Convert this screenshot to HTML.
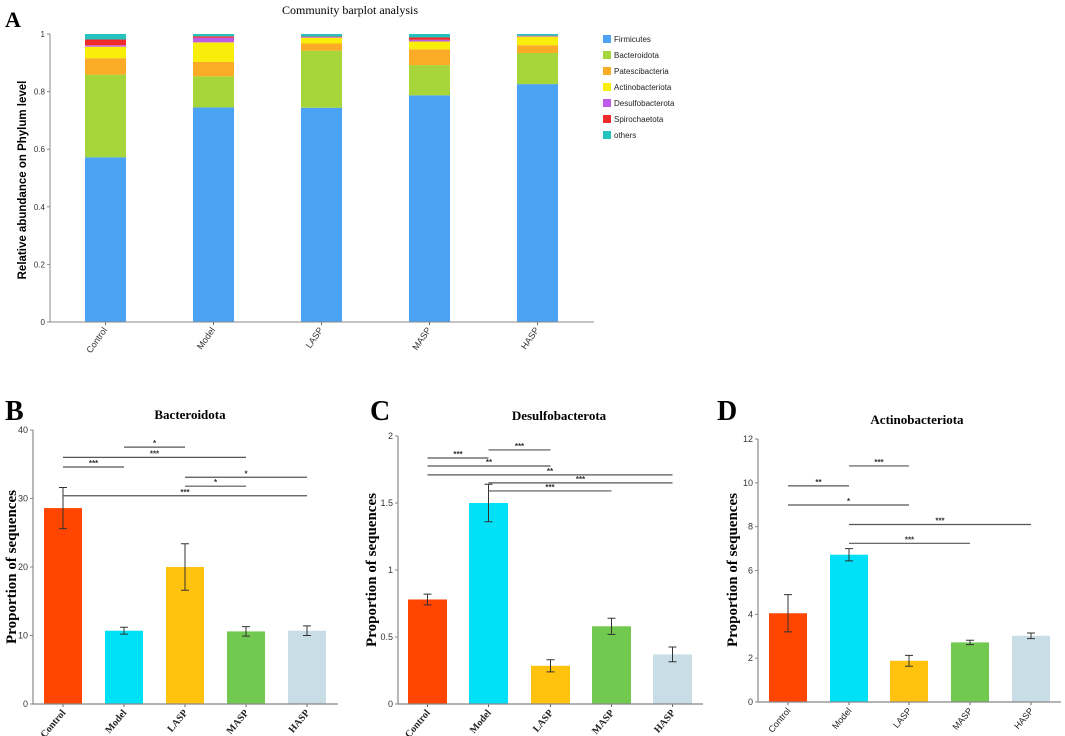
<!DOCTYPE html>
<html><head><meta charset="utf-8"><style>
html,body{margin:0;padding:0;background:#fff;}
svg{display:block;}
</style></head><body>
<svg id="fig" width="1065" height="736" viewBox="0 0 1065 736" xmlns="http://www.w3.org/2000/svg">
<text x="5" y="27" font-family="Liberation Serif, serif" font-weight="bold" font-size="22">A</text>
<text x="350" y="14" text-anchor="middle" font-family="Liberation Serif, serif" font-size="12">Community barplot analysis</text>
<text transform="translate(26,180) rotate(-90)" text-anchor="middle" font-family="Liberation Sans, sans-serif" font-weight="bold" font-size="11.5">Relative abundance on Phylum level</text>
<text x="5" y="420" font-family="Liberation Serif, serif" font-weight="bold" font-size="28">B</text>
<text x="190" y="419" text-anchor="middle" font-family="Liberation Serif, serif" font-weight="bold" font-size="13">Bacteroidota</text>
<text transform="translate(16,567) rotate(-90)" text-anchor="middle" font-family="Liberation Serif, serif" font-weight="bold" font-size="15">Proportion of sequences</text>
<text x="370" y="420" font-family="Liberation Serif, serif" font-weight="bold" font-size="28">C</text>
<text x="559" y="420" text-anchor="middle" font-family="Liberation Serif, serif" font-weight="bold" font-size="13">Desulfobacterota</text>
<text transform="translate(376,570) rotate(-90)" text-anchor="middle" font-family="Liberation Serif, serif" font-weight="bold" font-size="15">Proportion of sequences</text>
<text x="717" y="420" font-family="Liberation Serif, serif" font-weight="bold" font-size="28">D</text>
<text x="917" y="424" text-anchor="middle" font-family="Liberation Serif, serif" font-weight="bold" font-size="13">Actinobacteriota</text>
<text transform="translate(737,570) rotate(-90)" text-anchor="middle" font-family="Liberation Serif, serif" font-weight="bold" font-size="15">Proportion of sequences</text>
</svg>
<script>
const groups = ["Control","Model","LASP","MASP","HASP"];
// Panel A data
const phyla = ["Firmicutes","Bacteroidota","Patescibacteria","Actinobacteriota","Desulfobacterota","Spirochaetota","others"];
const phylaColors = ["#4aa3f5","#a6d63a","#fbab26","#f8ee0a","#c05be8","#ee2a2a","#26c2be"];
const firmicutes = [0.572,0.745,0.744,0.787,0.826];
const bacteroidota = [0.287,0.108,0.198,0.105,0.108];
const patescibacteria = [0.057,0.050,0.025,0.055,0.027];
const actinobacteriota = [0.040,0.068,0.020,0.027,0.030];
const desulfobacterota = [0.005,0.016,0.002,0.006,0.002];
const spirochaetota = [0.020,0.005,0.002,0.008,0.001];
const others = [0.019,0.008,0.009,0.012,0.006];
const aTicks = [0,0.2,0.4,0.6,0.8,1];
const aTickLabels = ["0","0.2","0.4","0.6","0.8","1"];
// Panel B
const bMeans = [28.6,10.7,20.0,10.6,10.7];
const bErr = [3.0,0.5,3.4,0.7,0.7];
const bTicks = [0,10,20,30,40];
const bSig = [[1,2,37.5,"*"],[0,3,36.0,"***"],[0,1,34.6,"***"],[2,4,33.1,"*"],[2,3,31.8,"*"],[0,4,30.4,"***"]];
// Panel C
const cMeans = [0.78,1.50,0.285,0.58,0.37];
const cErr = [0.04,0.14,0.045,0.06,0.055];
const cTicks = [0,0.5,1,1.5,2];
const cSig = [[1,2,1.896,"***"],[0,1,1.836,"***"],[0,2,1.776,"**"],[0,4,1.71,"**"],[1,4,1.65,"***"],[1,3,1.59,"***"]];
// Panel D
const dMeans = [4.05,6.72,1.88,2.72,3.02];
const dErr = [0.85,0.28,0.25,0.1,0.13];
const dTicks = [0,2,4,6,8,10,12];
const dSig = [[1,2,10.77,"***"],[0,1,9.86,"**"],[0,2,8.99,"*"],[1,4,8.1,"***"],[1,3,7.24,"***"]];
const barColors = ["#ff4500","#00e1f7","#ffc20e","#72c94f","#c9dde6"];

const NS="http://www.w3.org/2000/svg";
const svg=document.getElementById('fig');
function mk(tag,attrs){const e=document.createElementNS(NS,tag);for(const k in attrs)e.setAttribute(k,attrs[k]);svg.appendChild(e);return e;}

// ---- Panel A ----
(function(){
  const x0=50,x1=594,y0=322,y1=34;
  const ys=v=>y0-(y0-y1)*v;
  const barL=[85,193,301,409,517],bw=41;
  const series=[firmicutes,bacteroidota,patescibacteria,actinobacteriota,desulfobacterota,spirochaetota,others];
  groups.forEach((g,i)=>{
    let cum=0;
    series.forEach((s,k)=>{
      const top=ys(cum+s[i]),bot=ys(cum);
      const r=mk('rect',{x:barL[i],y:top,width:bw,height:Math.max(0,bot-top),fill:phylaColors[k]});
      
      
      cum+=s[i];
    });
    const tx=barL[i]+bw/2;
    const t=mk('line',{x1:tx,y1:y0,x2:tx,y2:y0+3,stroke:'#666'});
    
    
    const lab=mk('text',{transform:`translate(${tx+2},${y0+8}) rotate(-55)`,'text-anchor':'end','font-family':'Liberation Sans, sans-serif','font-size':'9',fill:'#333'});
    lab.textContent=g;
    
    
  });
  const ax=mk('path',{d:`M${x0},${y1} V${y0} H${x1}`,stroke:'#888',fill:'none','stroke-width':1});
  
  
  aTicks.forEach((v,i)=>{
    const t=mk('line',{x1:x0-3,y1:ys(v),x2:x0,y2:ys(v),stroke:'#888'});
    
    
    const l=mk('text',{x:x0-5,y:ys(v)+3,'text-anchor':'end','font-family':'Liberation Sans, sans-serif','font-size':'8',fill:'#333'});
    l.textContent=aTickLabels[i];
    
    
  });
  phyla.forEach((p,k)=>{
    const y=39+16*k;
    const r=mk('rect',{x:603,y:y-4,width:8,height:8,fill:phylaColors[k]});
    
    
    const t=mk('text',{x:614,y:y+3,'font-family':'Liberation Sans, sans-serif','font-size':'8',fill:'#222'});
    t.textContent=p;
    
    
  });
})();

// ---- Bar panels ----
function barPanel(cfg){
  const {x0,x1,y0,yTop,max,ticks,means,err,sig,barL,bw,serifX,id}=cfg;
  const ys=v=>y0-(y0-yTop)*v/max;
  const cx=i=>barL[i]+bw/2;
  means.forEach((m,i)=>{
    const r=mk('rect',{x:barL[i],y:ys(m),width:bw,height:y0-ys(m),fill:barColors[i]});
    
    
    const c=cx(i),hi=ys(m+err[i]),lo=ys(m-err[i]);
    const e=mk('path',{d:`M${c},${hi}V${lo}M${c-4},${hi}H${c+4}M${c-4},${lo}H${c+4}`,stroke:'#333','stroke-width':1,fill:'none'});
    
    
    const t=mk('line',{x1:c,y1:y0,x2:c,y2:y0+3,stroke:'#666'});
    
    
    const lab=mk('text',{transform:`translate(${c+3},${y0+9}) rotate(-50)`,'text-anchor':'end','font-family':serifX?'Liberation Serif, serif':'Liberation Sans, sans-serif','font-weight':serifX?'bold':'normal','font-size':serifX?'10':'9',fill:'#222'});
    lab.textContent=groups[i];
    
    
  });
  const ax=mk('path',{d:`M${x0},${yTop} V${y0} H${x1}`,stroke:'#888',fill:'none','stroke-width':1.2});
  
  
  ticks.forEach(v=>{
    const t=mk('line',{x1:x0-3,y1:ys(v),x2:x0,y2:ys(v),stroke:'#888'});
    
    
    const l=mk('text',{x:x0-5,y:ys(v)+3,'text-anchor':'end','font-family':'Liberation Sans, sans-serif','font-size':'9',fill:'#333'});
    l.textContent=String(v);
    
    
  });
  sig.forEach(s=>{
    const y=ys(s[2]);
    const l=mk('line',{x1:cx(s[0]),y1:y,x2:cx(s[1]),y2:y,stroke:'#555','stroke-width':1.2});
    
    
    const t=mk('text',{x:(cx(s[0])+cx(s[1]))/2,y:y-1,'text-anchor':'middle','font-family':'Liberation Sans, sans-serif','font-weight':'bold','font-size':'8',fill:'#333'});
    t.textContent=s[3];
    
    
  });
}
barPanel({id:'b',x0:33,x1:338,y0:704,yTop:430,max:40,ticks:bTicks,means:bMeans,err:bErr,sig:bSig,barL:[44,105,166,227,288],bw:38,serifX:true});
barPanel({id:'c',x0:398,x1:703,y0:704,yTop:436,max:2,ticks:cTicks,means:cMeans,err:cErr,sig:cSig,barL:[408,469,531,592,653],bw:39,serifX:true});
barPanel({id:'d',x0:758,x1:1061,y0:702,yTop:439,max:12,ticks:dTicks,means:dMeans,err:dErr,sig:dSig,barL:[769,830,890,951,1012],bw:38,serifX:false});
</script>
</body></html>
